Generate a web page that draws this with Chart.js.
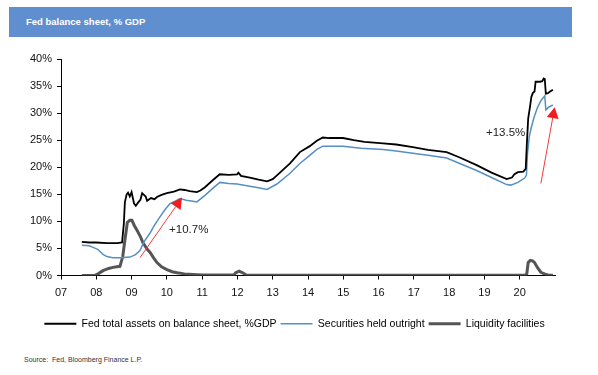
<!DOCTYPE html>
<html lang="en">
<head>
    <meta charset="UTF-8">
    <title>Fed balance sheet, % GDP</title>
    <style>
        body { margin: 0; background: #fff; width: 598px; height: 375px; position: relative; overflow: hidden; }
        .titlebar {
            position: absolute; left: 9px; top: 7px; width: 563px; height: 30px;
            background: #5f8fcf;
        }
        .titlebar span {
            position: absolute; left: 17px; top: 9px;
            font: bold 9.5px 'Liberation Sans', Arial, sans-serif; color: #fff;
        }
        #chart { position: absolute; left: 0; top: 40px; }
        .source {
            position: absolute; left: 24px; top: 356px;
            font: 7px 'Liberation Sans', Arial, sans-serif; color: #333;
        }
    </style>
</head>
<body>

<div class="titlebar"><span>Fed balance sheet, % GDP</span></div>
<canvas id="chart" width="598" height="299"></canvas>
<div class="source">Source:&nbsp; Fed, Bloomberg Finance L.P.</div>

<script src="https://cdn.jsdelivr.net/npm/chart.js"></script>
<script>
    // values (year, % of GDP)
    const totalYears = [2007.59, 2007.8, 2008.0, 2008.3, 2008.6, 2008.73, 2008.78, 2008.81, 2008.86, 2008.9, 2008.95, 2009.0, 2009.07, 2009.12, 2009.2, 2009.25, 2009.3, 2009.35, 2009.4, 2009.44, 2009.55, 2009.65, 2009.72, 2009.85, 2010.0, 2010.2, 2010.37, 2010.5, 2010.65, 2010.85, 2010.95, 2011.08, 2011.3, 2011.5, 2011.75, 2011.99, 2012.03, 2012.1, 2012.35, 2012.6, 2012.84, 2013.0, 2013.12, 2013.49, 2013.77, 2014.05, 2014.25, 2014.42, 2014.6, 2014.99, 2015.3, 2015.6, 2016.13, 2016.5, 2016.97, 2017.4, 2017.93, 2018.3, 2018.78, 2019.2, 2019.63, 2019.78, 2019.85, 2019.95, 2020.1, 2020.17, 2020.2, 2020.24, 2020.29, 2020.33, 2020.37, 2020.42, 2020.45, 2020.58, 2020.64, 2020.68, 2020.71, 2020.74, 2020.8, 2020.86, 2020.94];
    const totalValues = [6.2, 6.1, 6.1, 6.0, 6.0, 6.1, 9.5, 13.5, 15.0, 15.3, 14.6, 15.4, 13.3, 12.9, 13.6, 14.0, 15.2, 14.9, 14.6, 13.8, 14.3, 14.1, 14.5, 14.9, 15.2, 15.5, 15.9, 15.8, 15.6, 15.4, 15.7, 16.3, 17.6, 18.7, 18.6, 18.7, 19.0, 18.4, 18.1, 17.7, 17.4, 17.8, 18.5, 20.7, 22.8, 23.9, 24.9, 25.5, 25.4, 25.4, 25.0, 24.7, 24.4, 24.2, 23.7, 23.2, 22.8, 21.8, 20.4, 19.0, 17.8, 18.1, 18.7, 19.1, 19.2, 19.7, 24.0, 29.0, 31.1, 33.0, 33.7, 34.0, 35.8, 35.8, 35.9, 36.4, 36.3, 33.6, 33.7, 34.0, 34.3];

    const secYears = [2007.59, 2007.8, 2007.91, 2008.05, 2008.19, 2008.3, 2008.47, 2008.7, 2008.95, 2009.1, 2009.24, 2009.35, 2009.52, 2009.65, 2009.8, 2009.95, 2010.09, 2010.25, 2010.37, 2010.55, 2010.74, 2010.85, 2011.08, 2011.3, 2011.5, 2011.75, 2011.99, 2012.35, 2012.6, 2012.84, 2013.12, 2013.49, 2013.77, 2014.05, 2014.25, 2014.42, 2014.99, 2015.5, 2016.13, 2016.5, 2016.97, 2017.4, 2017.93, 2018.3, 2018.78, 2019.2, 2019.63, 2019.75, 2019.95, 2020.14, 2020.19, 2020.22, 2020.27, 2020.33, 2020.4, 2020.5, 2020.6, 2020.71, 2020.74, 2020.82, 2020.94];
    const secValues = [5.6, 5.5, 5.2, 4.8, 3.9, 3.5, 3.3, 3.3, 3.4, 3.8, 4.6, 6.2, 7.8, 9.3, 10.8, 12.2, 13.3, 13.8, 14.2, 13.9, 13.7, 13.6, 14.8, 16.1, 17.2, 17.0, 16.9, 16.5, 16.2, 15.9, 16.9, 18.9, 20.7, 22.2, 23.3, 23.9, 23.9, 23.5, 23.3, 23.0, 22.6, 22.2, 21.7, 20.7, 19.4, 18.1, 16.8, 16.7, 17.2, 18.0, 18.5, 22.5, 25.6, 27.4, 29.1, 31.0, 32.3, 33.2, 30.6, 31.1, 31.5];

    const liqYears = [2007.59, 2007.95, 2008.05, 2008.19, 2008.35, 2008.47, 2008.67, 2008.75, 2008.81, 2008.88, 2008.95, 2009.01, 2009.08, 2009.15, 2009.25, 2009.32, 2009.45, 2009.52, 2009.62, 2009.72, 2009.85, 2010.0, 2010.15, 2010.29, 2010.5, 2010.74, 2011.0, 2011.9, 2011.95, 2012.05, 2012.15, 2012.25, 2013.0, 2020.15, 2020.2, 2020.24, 2020.3, 2020.36, 2020.42, 2020.5, 2020.6, 2020.7, 2020.8, 2020.94];
    const liqValues = [0, 0, 0.3, 0.9, 1.3, 1.5, 1.7, 3.5, 6.5, 9.8, 10.2, 10.2, 9.2, 8.4, 7.2, 6.1, 4.8, 4.3, 3.3, 2.4, 1.6, 1.1, 0.7, 0.5, 0.3, 0.2, 0.1, 0.1, 0.5, 0.8, 0.5, 0.1, 0.05, 0.05, 0.3, 2.4, 2.8, 2.7, 2.4, 1.5, 0.6, 0.3, 0.1, 0.05];

    const yearTicks = [2007, 2008, 2009, 2010, 2011, 2012, 2013, 2014, 2015, 2016, 2017, 2018, 2019, 2020];
    const seriesNames = ['Fed total assets on balance sheet, %GDP', 'Securities held outright', 'Liquidity facilities'];

    // red arrows: [fromYear, fromValue, toYear, toValue], labels: [year, value, text]
    const arrows = [[2009.24, 3.3, 2010.43, 14.4], [2020.6, 17.0, 2020.99, 31.1]];
    const arrowLabels = [[2010.62, 8.5, '+10.7%'], [2019.6, 26.4, '+13.5%']];

    const FONT = "'Liberation Sans', Arial, sans-serif";

    function pairs(xs, ys) {
        return xs.map((x, i) => ({ x: x, y: ys[i] }));
    }

    const arrowPlugin = {
        id: 'arrows',
        afterDatasetsDraw(chart) {
            const ctx = chart.ctx;
            const xs = chart.scales.x, ys = chart.scales.y;
            ctx.save();
            arrows.forEach(a => {
                const x1 = xs.getPixelForValue(a[0]), y1 = ys.getPixelForValue(a[1]);
                const x2 = xs.getPixelForValue(a[2]), y2 = ys.getPixelForValue(a[3]);
                const ang = Math.atan2(y2 - y1, x2 - x1);
                const headLen = 11, headW = 6;
                const bx = x2 - Math.cos(ang) * headLen, by = y2 - Math.sin(ang) * headLen;
                ctx.strokeStyle = '#f03a3a';
                ctx.lineWidth = 1;
                ctx.beginPath();
                ctx.moveTo(x1, y1);
                ctx.lineTo(bx, by);
                ctx.stroke();
                ctx.fillStyle = '#f01e1e';
                ctx.beginPath();
                ctx.moveTo(x2, y2);
                ctx.lineTo(bx + Math.sin(ang) * headW, by - Math.cos(ang) * headW);
                ctx.lineTo(bx - Math.sin(ang) * headW, by + Math.cos(ang) * headW);
                ctx.closePath();
                ctx.fill();
            });
            ctx.fillStyle = '#222';
            ctx.font = '11.5px ' + FONT;
            ctx.textAlign = 'center';
            ctx.textBaseline = 'middle';
            arrowLabels.forEach(l => {
                ctx.fillText(l[2], xs.getPixelForValue(l[0]), ys.getPixelForValue(l[1]));
            });
            ctx.restore();
        }
    };

    new Chart(document.getElementById('chart'), {
        type: 'line',
        data: {
            datasets: [
                { label: seriesNames[0], data: pairs(totalYears, totalValues), borderColor: '#000', borderWidth: 1.8 },
                { label: seriesNames[1], data: pairs(secYears, secValues), borderColor: '#5590c4', borderWidth: 1.5 },
                { label: seriesNames[2], data: pairs(liqYears, liqValues), borderColor: '#555', borderWidth: 3 }
            ]
        },
        options: {
            responsive: false,
            animation: false,
            elements: { point: { radius: 0 }, line: { tension: 0, fill: false } },
            layout: { padding: { left: 0, right: 9, top: 19, bottom: 0 } },
            plugins: {
                tooltip: { enabled: false },
                legend: {
                    position: 'bottom',
                    labels: {
                        usePointStyle: true,
                        pointStyle: 'line',
                        pointStyleWidth: 32,
                        padding: 4,
                        color: '#111',
                        font: { family: FONT, size: 10.5 },
                        generateLabels(chart) {
                            return chart.data.datasets.map((d, i) => ({
                                text: d.label,
                                strokeStyle: d.borderColor,
                                fillStyle: d.borderColor,
                                lineWidth: d.borderWidth,
                                pointStyle: 'line',
                                datasetIndex: i
                            }));
                        }
                    }
                }
            },
            scales: {
                x: {
                    type: 'linear',
                    min: 2007,
                    max: 2021,
                    afterBuildTicks(scale) { scale.ticks = yearTicks.map(v => ({ value: v })); },
                    afterFit(scale) { scale.height = 39; },
                    grid: { display: true, drawOnChartArea: false, tickLength: 4, color: '#000' },
                    border: { color: '#000', width: 1 },
                    ticks: {
                        color: '#111',
                        padding: 7,
                        maxRotation: 0,
                        autoSkip: false,
                        font: { family: FONT, size: 11 },
                        callback: v => String(v).slice(2)
                    }
                },
                y: {
                    min: 0,
                    max: 40,
                    afterFit(scale) { scale.width = 61; },
                    grid: { display: true, drawOnChartArea: false, tickLength: 4, color: '#000' },
                    border: { color: '#000', width: 1 },
                    ticks: {
                        stepSize: 5,
                        color: '#111',
                        padding: 5,
                        font: { family: FONT, size: 11 },
                        callback: v => v + '%'
                    }
                },
                // empty right-hand strip so the plot ends where the picture's does
                yRight: {
                    position: 'right',
                    min: 0,
                    max: 40,
                    afterFit(scale) { scale.width = 34; },
                    grid: { display: false },
                    border: { display: false },
                    ticks: { display: false }
                }
            }
        },
        plugins: [arrowPlugin]
    });
</script>

</body>
</html>
